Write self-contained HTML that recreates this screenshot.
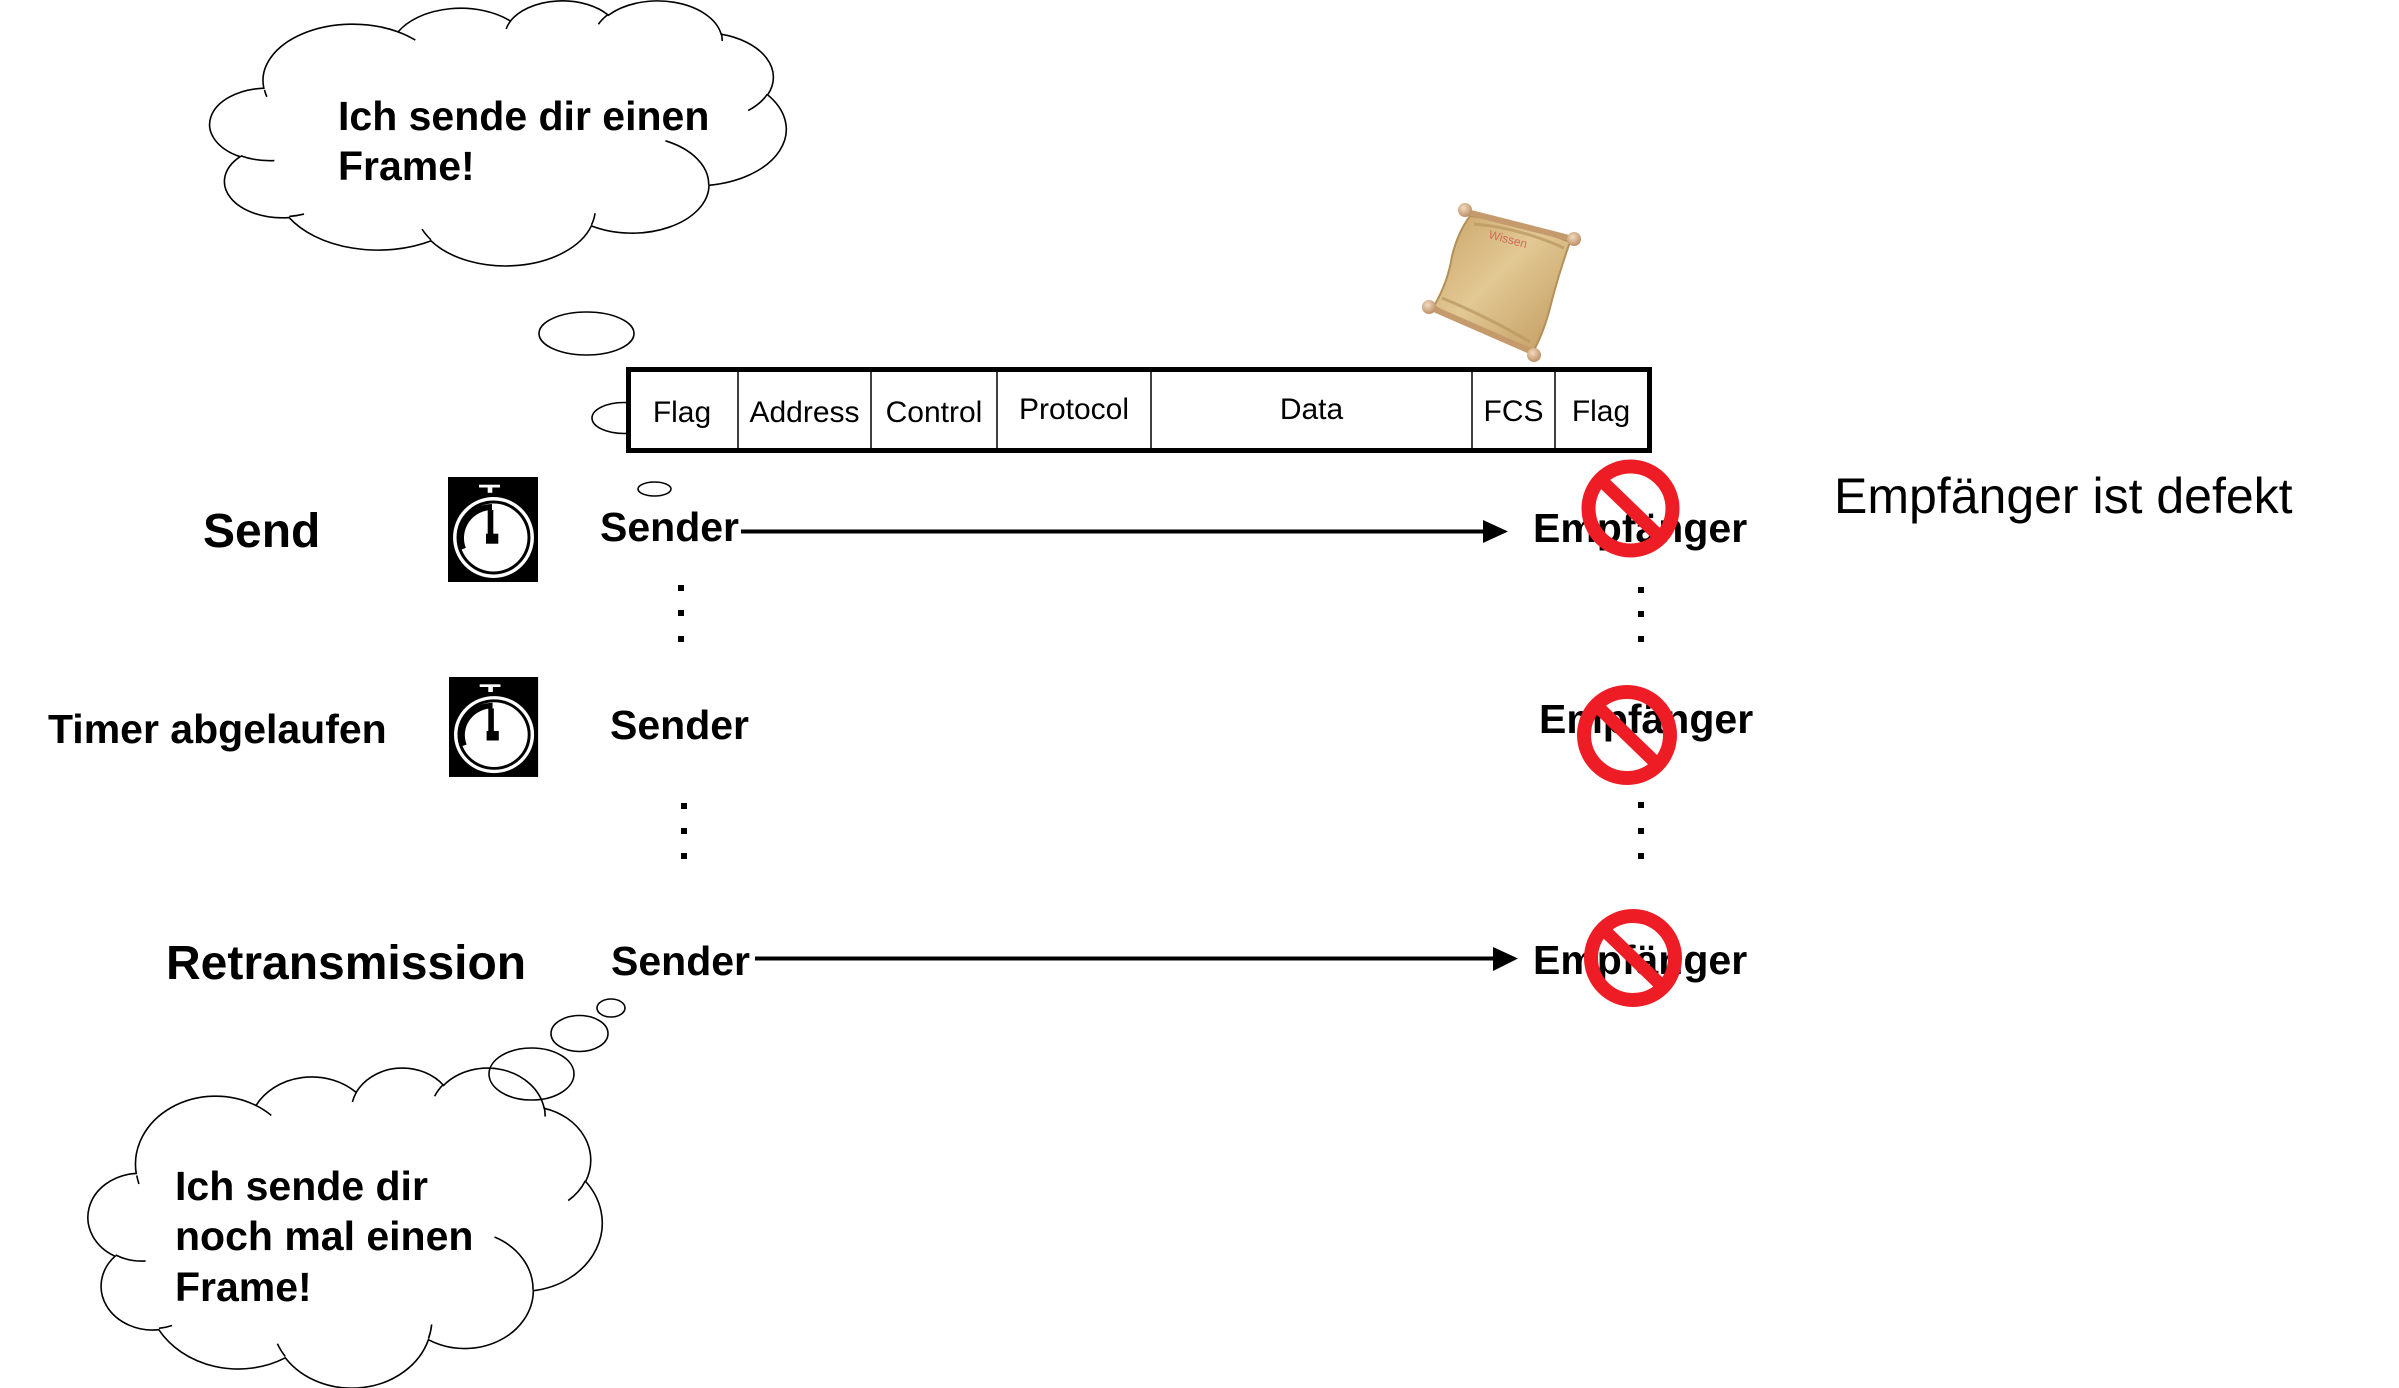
<!DOCTYPE html>
<html><head><meta charset="utf-8"><style>
html,body{margin:0;padding:0;background:#fff;}
svg{display:block;}
text{font-family:"Liberation Sans",Arial,sans-serif;fill:#000;}
.b{font-weight:bold;}
</style></head><body>
<svg width="2399" height="1388" viewBox="0 0 2399 1388" xmlns="http://www.w3.org/2000/svg">
<defs>
<linearGradient id="pg" x1="0" y1="0" x2="1" y2="1">
<stop offset="0" stop-color="#c9a469"/>
<stop offset="0.45" stop-color="#e2c893"/>
<stop offset="1" stop-color="#c09a5e"/>
</linearGradient>
<radialGradient id="kg" cx="0.4" cy="0.35" r="0.7">
<stop offset="0" stop-color="#f3dcc0"/>
<stop offset="1" stop-color="#b88a60"/>
</radialGradient>
</defs>

<!-- TOP CLOUD -->
<g transform="translate(212,0) scale(0.013287,0.0061343)">
<path d="M3900,14370 A6753,9190 0 0 1 14005,5201 A5333,7267 0 0 1 22456,3431 A4365,5945 0 0 1 29834,2481 A4857,6595 0 0 1 38320,5574 A5333,7273 0 0 1 41820,15460 A6775,9220 0 0 1 37405,30203 A5785,7867 0 0 1 28556,36813 A6752,9215 0 0 1 16480,39263 A7720,10543 0 0 1 5803,35468 A4360,5918 0 0 1 2113,25544 A4345,5945 0 0 1 3900,14370 Z" fill="#fff" stroke="#000" stroke-width="1.6" vector-effect="non-scaling-stroke"/>
<path d="M4693,26177 A4345,5945 0 0 1 2159,25380 M6928,34899 A4360,5918 0 0 1 5819,35281 M16478,39090 A6752,9215 0 0 1 15811,37352 M28827,34751 A6752,9215 0 0 1 28560,36660 M34129,22954 A5785,7867 0 0 1 37381,30090 M41798,15354 A5333,7273 0 0 1 40350,18029 M38324,5426 A4857,6595 0 0 1 38401,6690 M29078,3952 A4857,6595 0 0 1 29819,2341 M22141,4720 A4365,5945 0 0 1 22477,3396 M14000,5192 A6753,9190 0 0 1 15300,6540 M4127,15789 A6753,9190 0 0 1 3949,14650" fill="none" stroke="#000" stroke-width="1.6" vector-effect="non-scaling-stroke"/>
</g>
<ellipse cx="586.5" cy="333.5" rx="47.5" ry="21.5" fill="#fff" stroke="#000" stroke-width="1.6"/>
<ellipse cx="624" cy="418" rx="32" ry="15.5" fill="#fff" stroke="#000" stroke-width="1.6"/>
<ellipse cx="654.5" cy="489" rx="16.5" ry="7" fill="#fff" stroke="#000" stroke-width="1.6"/>
<text class="b" x="338" y="130" font-size="41">Ich sende dir einen</text>
<text class="b" x="338" y="180" font-size="41">Frame!</text>

<!-- SCROLL -->
<g>
<path d="M1470,216 Q1520,222 1570,242 Q1560,270 1552,300 Q1545,330 1534,350 Q1480,334 1434,306 Q1448,282 1452,256 Q1458,232 1470,216 Z" fill="url(#pg)" stroke="#b48f58" stroke-width="2"/>
<path d="M1474,224 Q1520,228 1564,248" fill="none" stroke="#b89660" stroke-width="3" opacity="0.7"/>
<path d="M1442,298 Q1490,318 1530,342" fill="none" stroke="#b89660" stroke-width="3" opacity="0.7"/>
<line x1="1463" y1="211" x2="1577" y2="240" stroke="#c59a6c" stroke-width="6" stroke-linecap="round"/>
<line x1="1427" y1="306" x2="1537" y2="354" stroke="#c59a6c" stroke-width="6" stroke-linecap="round"/>
<circle cx="1465" cy="210" r="7" fill="url(#kg)"/>
<circle cx="1574" cy="239" r="7" fill="url(#kg)"/>
<circle cx="1429" cy="307" r="7" fill="url(#kg)"/>
<circle cx="1534" cy="355" r="7" fill="url(#kg)"/>
<text x="1488" y="238" font-size="12" style="fill:#d46a5a" transform="rotate(15 1488 238)">Wissen</text>
</g>

<!-- FRAME BOX -->
<rect x="628.5" y="369.5" width="1021" height="81" fill="#fff" stroke="#000" stroke-width="5"/>
<g stroke="#000" stroke-width="1.5">
<line x1="738" y1="370" x2="738" y2="451"/>
<line x1="871" y1="370" x2="871" y2="451"/>
<line x1="997" y1="370" x2="997" y2="451"/>
<line x1="1151" y1="370" x2="1151" y2="451"/>
<line x1="1472" y1="370" x2="1472" y2="451"/>
<line x1="1555" y1="370" x2="1555" y2="451"/>
</g>
<g font-size="30" text-anchor="middle">
<text x="682" y="422">Flag</text>
<text x="804.5" y="422">Address</text>
<text x="934" y="422">Control</text>
<text x="1074" y="419">Protocol</text>
<text x="1311.5" y="419">Data</text>
<text x="1513.5" y="421">FCS</text>
<text x="1601" y="421">Flag</text>
</g>

<!-- LEFT LABELS -->
<text class="b" x="203" y="547" font-size="48">Send</text>
<text class="b" x="48" y="743" font-size="41">Timer abgelaufen</text>
<text class="b" x="166" y="979" font-size="48">Retransmission</text>

<!-- STOPWATCHES -->
<g transform="translate(448,477)">
<rect x="0" y="0" width="90" height="105" fill="#000"/>
<rect x="31" y="7.7" width="21" height="2.8" fill="#fff"/>
<rect x="39.7" y="10.3" width="4.6" height="5.5" fill="#fff"/>
<circle cx="45.5" cy="60.5" r="38.7" fill="none" stroke="#fff" stroke-width="3.5"/>
<circle cx="45.5" cy="60.5" r="34" fill="#fff"/>
<path d="M 15 72 A 31 31 0 0 1 44 30" fill="none" stroke="#000" stroke-width="6"/>
<rect x="39.7" y="33" width="5.6" height="24" fill="#000"/>
<rect x="38" y="56.7" width="12.3" height="10" fill="#000"/>
</g>
<g transform="translate(449,677) scale(0.99,0.952)">
<rect x="0" y="0" width="90" height="105" fill="#000"/>
<rect x="31" y="7.7" width="21" height="2.8" fill="#fff"/>
<rect x="39.7" y="10.3" width="4.6" height="5.5" fill="#fff"/>
<circle cx="45.5" cy="60.5" r="38.7" fill="none" stroke="#fff" stroke-width="3.5"/>
<circle cx="45.5" cy="60.5" r="34" fill="#fff"/>
<path d="M 15 72 A 31 31 0 0 1 44 30" fill="none" stroke="#000" stroke-width="6"/>
<rect x="39.7" y="33" width="5.6" height="24" fill="#000"/>
<rect x="38" y="56.7" width="12.3" height="10" fill="#000"/>
</g>

<!-- SENDER / ARROWS -->
<text class="b" x="600" y="541" font-size="41">Sender</text>
<line x1="741" y1="531.5" x2="1487" y2="531.5" stroke="#000" stroke-width="4"/>
<polygon points="1483,520 1508,531.5 1483,543" fill="#000"/>
<text class="b" x="610" y="739" font-size="41">Sender</text>
<text class="b" x="611" y="975" font-size="41">Sender</text>
<line x1="755" y1="958.5" x2="1496" y2="958.5" stroke="#000" stroke-width="4"/>
<polygon points="1493,947 1518,958.5 1493,971" fill="#000"/>

<!-- DOTS -->
<g fill="#000">
<rect x="678" y="585" width="6" height="6"/>
<rect x="678" y="610" width="6" height="6"/>
<rect x="678" y="636" width="6" height="6"/>
<rect x="681" y="803" width="6" height="6"/>
<rect x="681" y="828" width="6" height="6"/>
<rect x="681" y="853" width="6" height="6"/>
<rect x="1638" y="587" width="6" height="6"/>
<rect x="1638" y="611" width="6" height="6"/>
<rect x="1638" y="636" width="6" height="6"/>
<rect x="1638" y="802" width="6" height="6"/>
<rect x="1638" y="828" width="6" height="6"/>
<rect x="1638" y="853" width="6" height="6"/>
</g>

<!-- EMPFAENGER -->
<text class="b" x="1533" y="542" font-size="41">Empfänger</text>
<text class="b" x="1539" y="733" font-size="41">Empfänger</text>
<text class="b" x="1533" y="974" font-size="41">Empfänger</text>

<!-- NO-ENTRY SIGNS -->
<g transform="translate(1630.5,508.5)">
<circle r="42" fill="none" stroke="#ee1c24" stroke-width="14"/>
<line x1="-30" y1="-29" x2="30" y2="29" stroke="#ee1c24" stroke-width="13"/>
</g>
<g transform="translate(1627,735)">
<circle r="43" fill="none" stroke="#ee1c24" stroke-width="14"/>
<line x1="-31" y1="-30" x2="31" y2="30" stroke="#ee1c24" stroke-width="13"/>
</g>
<g transform="translate(1633,958)">
<circle r="42" fill="none" stroke="#ee1c24" stroke-width="14"/>
<line x1="-30" y1="-29" x2="30" y2="29" stroke="#ee1c24" stroke-width="13"/>
</g>

<text x="1834" y="513" font-size="50">Empfänger ist defekt</text>

<!-- BOTTOM CLOUD -->
<g transform="translate(90,1067) scale(0.011852,0.0074074)">
<path d="M3900,14370 A6753,9190 0 0 1 14005,5201 A5333,7267 0 0 1 22456,3431 A4365,5945 0 0 1 29834,2481 A4857,6595 0 0 1 38320,5574 A5333,7273 0 0 1 41820,15460 A6775,9220 0 0 1 37405,30203 A5785,7867 0 0 1 28556,36813 A6752,9215 0 0 1 16480,39263 A7720,10543 0 0 1 5803,35468 A4360,5918 0 0 1 2113,25544 A4345,5945 0 0 1 3900,14370 Z" fill="#fff" stroke="#000" stroke-width="1.6" vector-effect="non-scaling-stroke"/>
<path d="M4693,26177 A4345,5945 0 0 1 2159,25380 M6928,34899 A4360,5918 0 0 1 5819,35281 M16478,39090 A6752,9215 0 0 1 15811,37352 M28827,34751 A6752,9215 0 0 1 28560,36660 M34129,22954 A5785,7867 0 0 1 37381,30090 M41798,15354 A5333,7273 0 0 1 40350,18029 M38324,5426 A4857,6595 0 0 1 38401,6690 M29078,3952 A4857,6595 0 0 1 29819,2341 M22141,4720 A4365,5945 0 0 1 22477,3396 M14000,5192 A6753,9190 0 0 1 15300,6540 M4127,15789 A6753,9190 0 0 1 3949,14650" fill="none" stroke="#000" stroke-width="1.6" vector-effect="non-scaling-stroke"/>
</g>
<ellipse cx="531.5" cy="1074" rx="42.5" ry="26" fill="none" stroke="#000" stroke-width="1.6"/>
<ellipse cx="579.5" cy="1033.5" rx="28.5" ry="18" fill="#fff" stroke="#000" stroke-width="1.6"/>
<ellipse cx="611" cy="1008" rx="14" ry="9" fill="#fff" stroke="#000" stroke-width="1.6"/>
<text class="b" x="175" y="1200" font-size="41">Ich sende dir</text>
<text class="b" x="175" y="1250" font-size="41">noch mal einen</text>
<text class="b" x="175" y="1301" font-size="41">Frame!</text>
</svg>
</body></html>
